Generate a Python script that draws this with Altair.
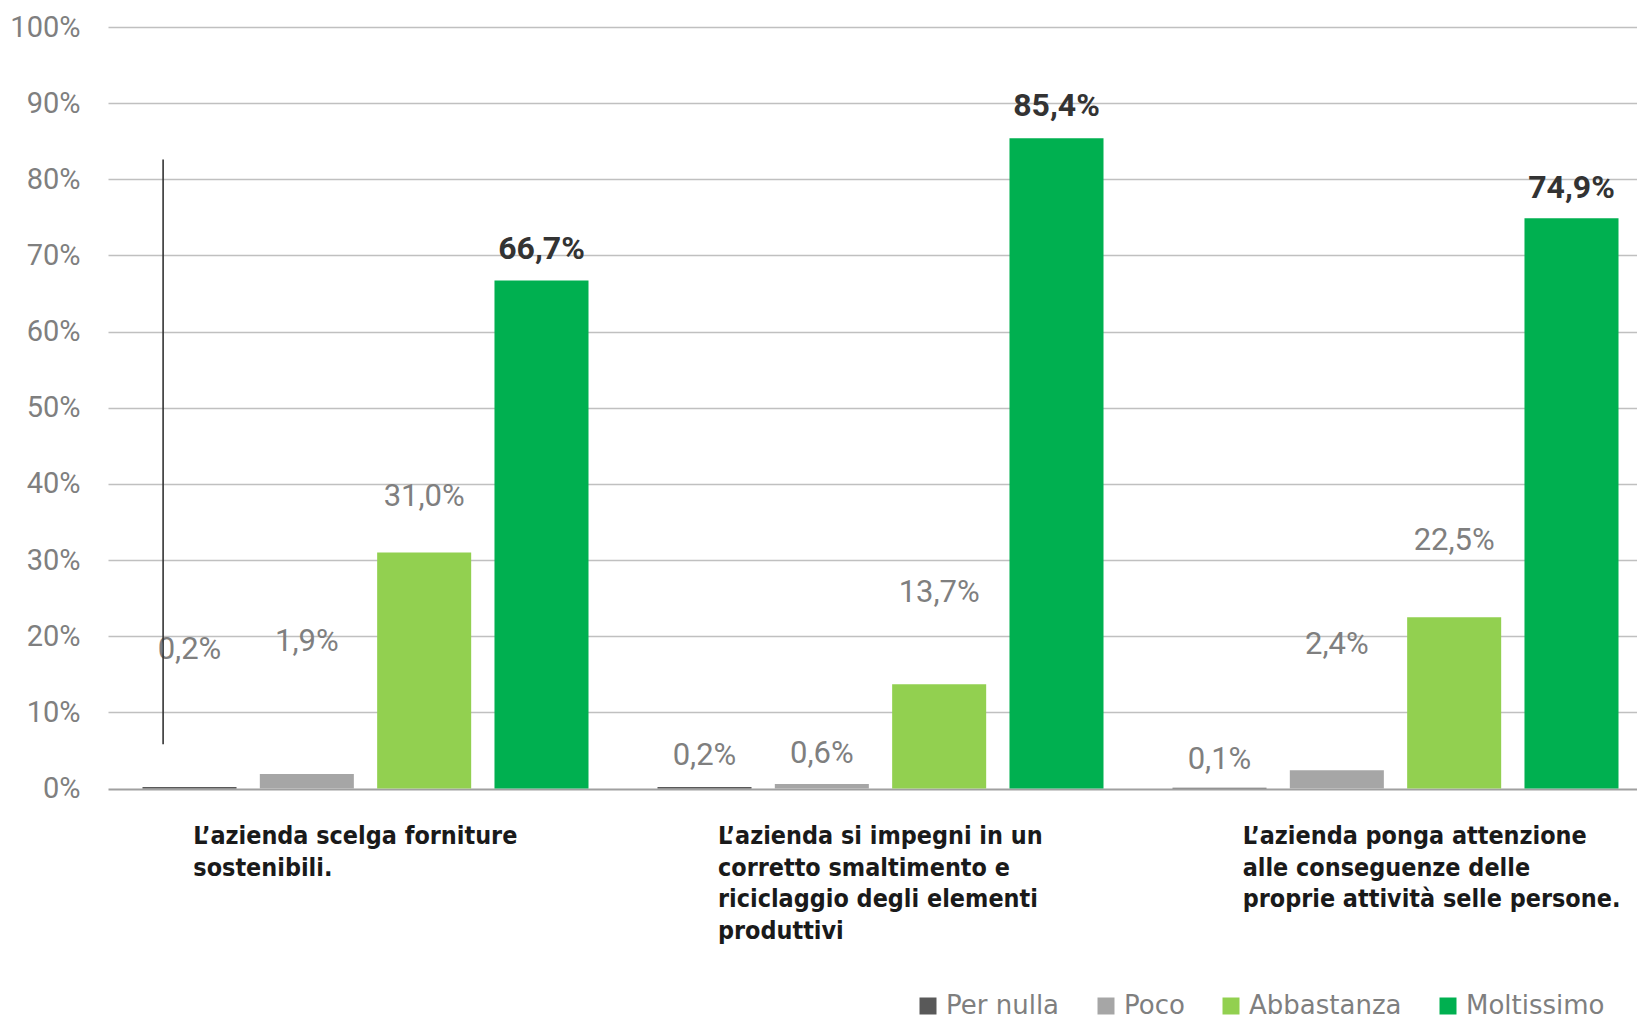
import altair as alt
import pandas as pd

# ---------------- data ----------------
categories = [
    "L’azienda scelga forniture\nsostenibili.",
    "L’azienda si impegni in un\ncorretto smaltimento e\nriciclaggio degli elementi\nproduttivi",
    "L’azienda ponga attenzione\nalle conseguenze delle\nproprie attività selle persone.",
]
series = ["Per nulla", "Poco", "Abbastanza", "Moltissimo"]
colors = ["#595959", "#a6a6a6", "#92d050", "#00b050"]

per_nulla = [0.2, 0.2, 0.1]
poco = [1.9, 0.6, 2.4]
abbastanza = [31.0, 13.7, 22.5]
moltissimo = [66.7, 85.4, 74.9]

# heights (in %) at which the original chart placed each value label
label_per_nulla = [18.2, 4.3, 3.8]
label_poco = [19.2, 4.5, 18.9]
label_abbastanza = [38.3, 25.7, 32.5]
label_moltissimo = [70.8, 89.6, 78.9]

# stray vertical line present in the original (in % units)
stray_line = [5.8, 82.6]

# ---------------- tables ----------------
values = [per_nulla, poco, abbastanza, moltissimo]
labels = [label_per_nulla, label_poco, label_abbastanza, label_moltissimo]
rows = []
for s, vals, lps in zip(series, values, labels):
    for c, v, lp in zip(categories, vals, lps):
        rows.append({"cat": c, "series": s, "value": v, "pos": lp})
df = pd.DataFrame(rows)
cat_df = pd.DataFrame({"cat": categories})
rule_df = pd.DataFrame({"cat": [categories[0]], "y1": [stray_line[0]], "y2": [stray_line[1]]})

bar_x_scale = alt.Scale(range=[0, 1545], paddingInner=0, paddingOuter=0)
x_enc = alt.X("cat:N", sort=categories, axis=None, scale=bar_x_scale)
xoff_enc = alt.XOffset("series:N", sort=series,
                       scale=alt.Scale(domain=series, paddingInner=0.1986, paddingOuter=0.294))

y_axis = alt.Axis(
    values=list(range(0, 101, 10)),
    labelExpr="datum.value + '%'",
    grid=True,
    gridColor=alt.condition("datum.value === 0", alt.value("#a0a0a0"), alt.value("#c0c0c0")),
    gridWidth=alt.condition("datum.value === 0", alt.value(2), alt.value(1.3)),
    domain=False,
    ticks=False,
    labelPadding=28,
    labelFont="Roboto",
    labelFontSize=29,
    labelColor="#7f7f7f",
    title=None,
)
y_scale = alt.Scale(domain=[0, 100], nice=False)

bars = alt.Chart(df).mark_bar().encode(
    x=x_enc,
    xOffset=xoff_enc,
    y=alt.Y("value:Q", scale=y_scale, axis=y_axis),
    color=alt.Color(
        "series:N",
        sort=series,
        scale=alt.Scale(domain=series, range=colors),
        legend=alt.Legend(
            title=None,
            orient="none",
            legendX=807,
            legendY=966,
            direction="horizontal",
            columns=4,
            columnPadding=33,
            symbolType="square",
            symbolSize=289,
            symbolStrokeWidth=0,
            labelFont="DejaVu Sans",
            labelFontSize=26,
            labelColor="#7f7f7f",
            labelOffset=5,
            padding=0,
        ),
    ),
)

lbl_expr = "replace(format(datum.value, '.1f'), '.', ',') + '%'"

gray_text = (
    alt.Chart(df)
    .transform_filter("datum.series != 'Moltissimo'")
    .transform_calculate(lbl=lbl_expr)
    .mark_text(font="Roboto", fontSize=31, color="#7f7f7f", baseline="middle")
    .encode(x=x_enc, xOffset=xoff_enc, y=alt.Y("pos:Q", scale=y_scale), text="lbl:N")
)

bold_text = (
    alt.Chart(df)
    .transform_filter("datum.series == 'Moltissimo'")
    .transform_calculate(lbl=lbl_expr)
    .mark_text(font="Roboto", fontSize=32, fontWeight="bold",
               color="#333333", baseline="middle")
    .encode(x=x_enc, xOffset=xoff_enc, y=alt.Y("pos:Q", scale=y_scale), text="lbl:N")
)

rule = alt.Chart(rule_df).mark_rule(color="#333333", strokeWidth=1.6).encode(
    x=alt.X("cat:N", sort=categories, axis=None, scale=bar_x_scale, bandPosition=0.107),
    y=alt.Y("y1:Q", scale=y_scale),
    y2="y2:Q",
)

inner = alt.layer(bars, gray_text, bold_text, rule)

cat_labels = alt.Chart(cat_df).mark_text(
    align="left",
    baseline="alphabetic",
    font="DejaVu Sans Condensed",
    fontWeight="bold",
    fontSize=24.9,
    lineHeight=31.7,
    lineBreak="\n",
    dx=-177,
    dy=55.4,
    color="#1a1a1a",
).encode(
    x=alt.X("cat:N", sort=categories, axis=None,
            scale=alt.Scale(range=[0, 1574], paddingInner=0, paddingOuter=0)),
    y=alt.datum(0, scale=y_scale),
    text="cat:N",
)

chart = (
    alt.layer(inner, cat_labels)
    .resolve_scale(x="independent")
    .properties(
        width=1529,
        height=761.5,
        padding={"left": 9, "top": 13, "right": 0, "bottom": 0},
        background="white",
    )
    .configure_view(stroke=None)
)

chart.save("out.html", embed_options={"renderer": "svg", "actions": False})
